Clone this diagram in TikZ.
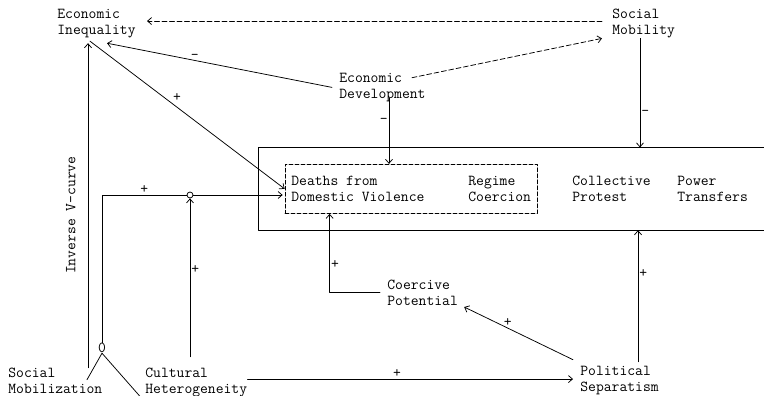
\documentclass[tikz,border=0pt]{standalone}
\usepackage{fontspec}
\usetikzlibrary{arrows.meta,fit}
\begin{document}
\begin{tikzpicture}[x=1pt,y=-1pt,line cap=round,line join=round,line width=0.75pt,
  >={Straight Barb[length=4pt,width=7pt]},font=\ttfamily\fontsize{15.2}{16}\selectfont,
  var/.style={align=left,inner sep=0pt,anchor=north west},
  sgn/.style={inner sep=1pt},
  link/.style={dash pattern=on 5pt off 2.5pt}]
\useasboundingbox (0,0) rectangle (764,396);
\coordinate (edge) at (764,0);
\node[var] (ineq) at (57,8.7) {Economic\\Inequality};
\node[var] (mob) at (612,8.7) {Social\\Mobility};
\node[var] (dev) at (339,72.7) {Economic\\Development};
\node[var] (deaths) at (291,175.7) {Deaths from\\Domestic Violence};
\node[var] (regime) at (468,175.7) {Regime\\Coercion};
\node[var] (protest) at (572,175.7) {Collective\\Protest};
\node[var] (transfers) at (677,175.7) {Power\\Transfers};
\node[var] (coercpot) at (387,279.7) {Coercive\\Potential};
\node[var] (socmob) at (8,367.7) {Social\\Mobilization};
\node[var] (cult) at (145,367.7) {Cultural\\Heterogeneity};
\node[var] (sep) at (580,365.7) {Political\\Separatism};
\node[draw,dash pattern=on 4pt off 2pt,fit=(deaths)(regime),inner xsep=6pt,inner ysep=11.5pt] (viol) {};
\node[fit=(viol)(protest)(transfers),inner xsep=26pt,inner ysep=16pt] (outcome) {};
\draw (outcome.north west -| edge) -- (outcome.north west) -- (outcome.south west) -- (outcome.south west -| edge);
\node[circle,draw,inner sep=0pt,minimum size=6pt] (jmix) at (190,195) {};
\node[inner sep=0pt] (jzero) at (102,348) {0};
\coordinate (vtip) at ([shift={(31,5)}]ineq.south west);
\coordinate (ifoot) at ([shift={(33,3)}]ineq.south west);
\draw[link,->] ([shift={(-10,-2.5)}]mob.west) -- ([shift={(11,-2.5)}]mob.west -| ineq.east);
\draw[link,->] ([shift={(73,5)}]dev.north west) -- ([xshift=-10pt]mob.south west);
\draw[->] ([xshift=-7pt]dev.west) -- ([shift={(50,5)}]ineq.south west) node[sgn,pos=0.61,above]{-};
\draw[->] (ifoot) -- (viol.west) node[sgn,pos=0.42,above right]{+};
\draw[->] ([shift={(50,-4)}]dev.south west) coordinate (devfoot) -- (devfoot |- viol.north) node[sgn,pos=0.35,left]{-};
\draw[->] ([xshift=28pt]mob.south west) coordinate (mobfoot) -- (mobfoot |- outcome.north) node[sgn,pos=0.68,right]{-};
\draw[->] ([shift={(58,-4)}]sep.north west) coordinate (sepup) -- (sepup |- outcome.south) node[sgn,pos=0.67,right]{+};
\draw[->] ([shift={(-7,-6)}]sep.north west) -- ([shift={(6,1)}]coercpot.south east) node[sgn,pos=0.6,above]{+};
\draw[->] ([xshift=-7pt]coercpot.west) -| ([xshift=45pt]viol.south west) node[sgn,pos=0.68,right]{+};
\draw[->,shorten >=7pt] ([shift={(0,-3.5)}]cult.east) -- ([shift={(0,-3.5)}]cult.east -| sep.west) node[sgn,pos=0.45,above]{+};
\draw[->] (jmix.south |- cult.north) ++(0,-11) -- (jmix.south) node[sgn,pos=0.55,right]{+};
\draw (jzero.north) |- (jmix.west) node[sgn,pos=0.75,above]{+};
\draw[->,shorten >=2pt] (jmix.east) -- (jmix.east -| viol.west);
\draw (jzero.south) -- ([shift={(79,12)}]socmob.north west);
\draw (jzero.south) -- ([shift={(-5,-1)}]cult.south west);
\draw[->] (socmob.north west -| vtip) -- (vtip) node[pos=0.47,rotate=90,anchor=south,inner xsep=0pt,inner ysep=12pt]{Inverse V-curve};
\end{tikzpicture}
\end{document}
